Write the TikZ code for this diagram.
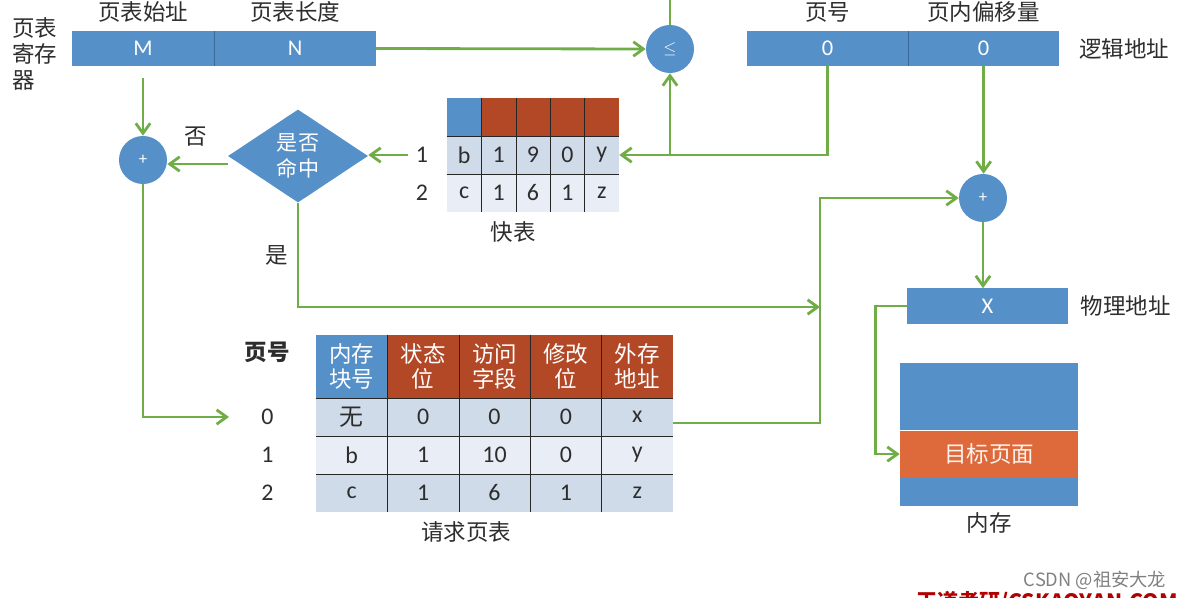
\documentclass[tikz,border=0pt]{standalone}
\usepackage{fontspec}
\setmainfont{Carlito}
\newfontfamily\cjk{Noto Sans CJK SC}
\usetikzlibrary{shapes.geometric,positioning,arrows.meta,calc}

\definecolor{boxblue}{RGB}{86,144,200}
\definecolor{bandblue}{RGB}{60,105,150}
\definecolor{hdrred}{RGB}{178,72,38}
\definecolor{pageorange}{RGB}{222,106,60}
\definecolor{rowdark}{RGB}{208,219,234}
\definecolor{rowlight}{RGB}{233,238,246}
\definecolor{flowgreen}{RGB}{112,173,71}
\definecolor{txtgray}{RGB}{45,45,45}

\tikzset{
    lbl/.style={inner sep=0pt, text=txtgray, font=\cjk\fontsize{16}{18}\selectfont},
    num/.style={inner sep=0pt, text=txtgray, font=\fontsize{17}{20}\selectfont},
    bar/.style={fill=boxblue, text=white, inner sep=0pt, minimum height=0.875cm, font=\fontsize{16}{19}\selectfont},
    adder/.style={circle, fill=boxblue, text=white, minimum size=1.2cm, inner sep=0pt, font=\fontsize{12}{14}\selectfont},
    cell/.style={inner sep=0pt, text=txtgray, font=\fontsize{17}{20}\selectfont},
    hdr/.style={inner sep=0pt, text=white, align=center, font=\cjk\fontsize{16}{18}\selectfont},
    grid/.style={draw=black!85, line width=0.8pt},
    link/.style={draw=flowgreen, line width=2pt},
    flow/.style={link, -{Straight Barb[length=2.5mm,width=3.6mm]}},
}

\begin{document}
\begin{tikzpicture}[x=0.025cm, y=-0.025cm]
    \useasboundingbox (0,0) rectangle (1184,598);
    \clip (0,0) rectangle (1184,598);

    \def\hdrcolors{{"boxblue","hdrred","hdrred","hdrred","hdrred"}}

    % page table register
    \node[bar, minimum width=3.55cm] (M) at (143,48.5) {M};
    \node[bar, minimum width=4.025cm, right=0pt of M] (N) {N};
    \draw[bandblue, line width=0.6pt] (M.north east) -- (M.south east);
    \node[lbl, above=2mm of M] {页表始址};
    \node[lbl, above=2mm of N] {页表长度};
    \node[lbl, anchor=north west, align=left, font=\cjk\fontsize{16}{18.5}\selectfont] at (12,17) {页表\\寄存\\器};

    % logical address
    \node[bar, minimum width=4.025cm] (lpage) at (827.5,48.5) {0};
    \node[bar, minimum width=3.75cm, right=0pt of lpage] (loff) {0};
    \draw[bandblue, line width=0.6pt] (lpage.north east) -- (lpage.south east);
    \node[lbl, above=2mm of lpage] {页号};
    \node[lbl, above=2mm of loff] {页内偏移量};
    \node[lbl, right=5mm of loff] {逻辑地址};

    \node[adder] (cmp) at (670,49) {$\leq$};
    \node[adder] (plus1) at (143,160) {+};
    \node[adder] (plus2) at (983,198) {+};
    \node[diamond, aspect=1.5, fill=boxblue, hdr, minimum width=3.5cm, minimum height=2.325cm,
          font=\cjk\fontsize{15}{18.5}\selectfont] (hit) at (298,156) {是否\\命中};
    \node[lbl] at (196,137) {否};
    \node[lbl] at (277,255) {是};

    % TLB
    \foreach \j in {1,...,5}{
        \pgfmathsetmacro{\cx}{447+34.4*(\j-0.5)}
        \pgfmathparse{\hdrcolors[\j-1]}\edef\hc{\pgfmathresult}
        \node[cell, fill=\hc, minimum width=0.86cm, minimum height=0.95cm] (tlb0-\j) at (\cx,117) {};
    }
    \foreach \row [count=\i] in {{b,1,9,0,y},{c,1,6,1,z}}{
        \pgfmathsetmacro{\cy}{117+38*\i}
        \ifodd\i \def\rowfill{rowdark}\else \def\rowfill{rowlight}\fi
        \foreach \v [count=\j] in \row{
            \pgfmathsetmacro{\cx}{447+34.4*(\j-0.5)}
            \node[cell, fill=\rowfill, minimum width=0.86cm, minimum height=0.95cm] (tlb\i-\j) at (\cx,\cy) {\v};
        }
        \node[num, left=4.6mm of tlb\i-1] (tlbl\i) {\i};
    }
    \foreach \j in {1,...,4}
        \draw[grid] (tlb0-\j.north east) -- (tlb2-\j.south east);
    \foreach \i in {0,1}
        \draw[grid] (tlb\i-1.south west) -- (tlb\i-5.south east);
    \node[lbl] at (513,232) {快表};

    % page table
    \foreach \t [count=\j] in {{内存\\块号},{状态\\位},{访问\\字段},{修改\\位},{外存\\地址}}{
        \pgfmathsetmacro{\cx}{316+71.4*(\j-0.5)}
        \pgfmathparse{\hdrcolors[\j-1]}\edef\hc{\pgfmathresult}
        \node[hdr, fill=\hc, minimum width=1.785cm, minimum height=1.575cm] (hd-\j) at (\cx,366.5) {\t};
    }
    \foreach \row [count=\i from 0] in {{{\cjk 无},0,0,0,x},{b,1,10,0,y},{c,1,6,1,z}}{
        \pgfmathsetmacro{\cy}{417+38*\i}
        \ifodd\i \def\rowfill{rowlight}\else \def\rowfill{rowdark}\fi
        \foreach \v [count=\j] in \row{
            \pgfmathsetmacro{\cx}{316+71.4*(\j-0.5)}
            \node[cell, fill=\rowfill, minimum width=1.785cm, minimum height=0.95cm] (pt\i-\j) at (\cx,\cy) {\v};
        }
        \node[num, left=1.05cm of pt\i-1] (ptl\i) {\i};
    }
    \foreach \j in {1,...,4}
        \draw[grid] (hd-\j.north east) -- (pt2-\j.south east);
    \draw[grid] (hd-1.south west) -- (hd-5.south east);
    \foreach \i in {0,1}
        \draw[grid] (pt\i-1.south west) -- (pt\i-5.south east);
    \node[lbl, font=\cjk\bfseries\fontsize{16}{18}\selectfont] at (267,352) {页号};
    \node[lbl] at (466,532) {请求页表};

    % physical address and memory
    \node[bar, minimum width=4.025cm] (paddr) at (987.5,306) {X};
    \node[lbl, right=3mm of paddr] {物理地址};
    \node[fill=boxblue, inner sep=0pt, minimum width=4.45cm, minimum height=1.675cm] (memtop) at (989,396.5) {};
    \node[fill=pageorange, hdr, text=white!92!pageorange, minimum width=4.45cm, minimum height=1.175cm, below=0pt of memtop] (memtgt) {目标页面};
    \node[fill=boxblue, inner sep=0pt, minimum width=4.45cm, minimum height=0.7cm, below=0pt of memtgt] (membot) {};
    \node[lbl, below=1.5mm of membot] {内存};

    % connectors
    \coordinate (cmpin) at (670,0);
    \coordinate (jx) at (820,307);
    \draw[link] (cmpin) -- (cmp.north);
    \draw[flow] (N.east) -- (cmp.west);
    \draw[flow] (lpage.south) |- (tlb1-5.east);
    \draw[flow] (cmp.south |- tlb1-5.east) -- (cmp.south);
    \draw[flow, shorten <=2mm] (tlbl1.west) -- (tlbl1.west -| hit.east);
    \draw[flow] ([yshift=-2mm]hit.west) -- ([yshift=-2mm]hit.west -| plus1.east);
    \draw[flow, shorten <=3mm] (M.south) -- (plus1.north);
    \draw[flow, shorten >=8mm] (plus1.south) |- (ptl0.west);
    \draw[flow] (hit.south) |- (jx);
    \draw[flow] ([yshift=-1.5mm]pt0-5.east) -| (jx) |- (plus2.west);
    \draw[flow] (loff.south) -- (loff.south |- plus2.north);
    \draw[flow] (plus2.south) -- (plus2.south |- paddr.north);
    \draw[flow] (paddr.west) -- ++(-31,0) |- (memtgt.west);

    \node[inner sep=0pt, text=black!50, font=\cjk\fontsize{13}{15}\selectfont] (csdn) at (1095,580) {CSDN @祖安大龙};
    \node[anchor=north, inner sep=0pt, text=red!70!black, font=\cjk\bfseries\fontsize{15}{18}\selectfont] (wdky) at (1047,591) {王道考研/CSKAOYAN.COM};
\end{tikzpicture}
\end{document}
